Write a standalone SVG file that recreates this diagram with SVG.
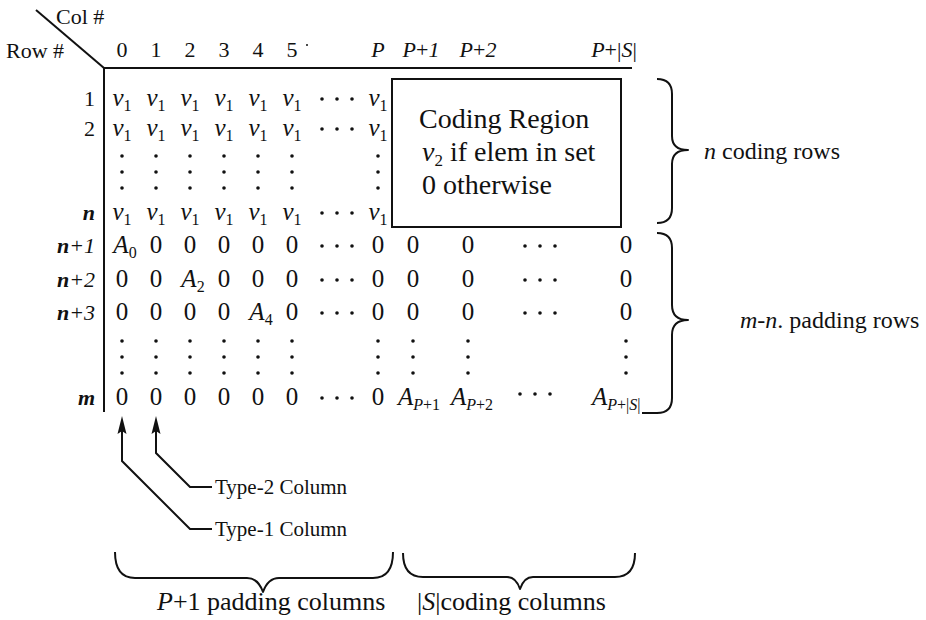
<svg xmlns="http://www.w3.org/2000/svg" width="926" height="620" viewBox="0 0 926 620">
<style>
text{font-family:"Liberation Serif","Times New Roman",serif;fill:#111}
.m{font-size:25px}
.h{font-size:22px}
.lb{font-size:22px}
.i{font-style:italic}
.b{font-weight:bold}
.sub{font-size:16px}
.box{font-size:28px}
.side{font-size:24px}
.bot{font-size:26px}
.typ{font-size:21px}
.ln{fill:none;stroke:#111;stroke-width:2}
.br{fill:none;stroke:#111;stroke-width:2;stroke-linejoin:round}
.dot{fill:#111}
</style>
<defs>
<circle id="d" r="1.8" class="dot"/>
<g id="hd"><use href="#d" x="-15"/><use href="#d"/><use href="#d" x="15"/></g>
<g id="vd"><use href="#d" y="-16"/><use href="#d"/><use href="#d" y="16"/></g>
<path id="ah" d="M0,0 L4.5,18 L0,15 L-4.5,18 Z" fill="#111"/>
</defs>
<g id="axes">
<line class="ln" x1="36" y1="10" x2="104" y2="68"/>
<line class="ln" x1="104" y1="68" x2="632" y2="68"/>
<line class="ln" x1="104" y1="68" x2="104" y2="412"/>
<text class="h" x="56" y="24">Col #</text>
<text class="h" x="6" y="58">Row #</text>
</g>
<g id="col-headers" class="h" text-anchor="middle">
<text x="122" y="57">0</text>
<text x="156" y="57">1</text>
<text x="190" y="57">2</text>
<text x="224" y="57">3</text>
<text x="258" y="57">4</text>
<text x="292" y="57">5</text>
<text x="378" y="57" class="i">P</text>
<text x="421" y="57"><tspan class="i">P</tspan>+<tspan class="i">1</tspan></text>
<text x="478" y="57"><tspan class="i">P</tspan>+<tspan class="i">2</tspan></text>
<text x="614" y="57"><tspan class="i">P</tspan>+|<tspan class="i">S</tspan>|</text>
</g>
<circle cx="307" cy="45" r="1" class="dot"/>
<g id="row-labels" class="lb" text-anchor="end">
<text x="95" y="106">1</text>
<text x="95" y="136">2</text>
<text x="95" y="220" class="i b">n</text>
<text x="95" y="253" class="i"><tspan class="b">n</tspan>+1</text>
<text x="95" y="287" class="i"><tspan class="b">n</tspan>+2</text>
<text x="95" y="320" class="i"><tspan class="b">n</tspan>+3</text>
<text x="95" y="405" class="i b">m</text>
</g>
<g id="padding-cols" class="m" text-anchor="middle">
<text x="122" y="106"><tspan class="i">v</tspan><tspan class="sub" dy="5">1</tspan></text>
<text x="156" y="106"><tspan class="i">v</tspan><tspan class="sub" dy="5">1</tspan></text>
<text x="190" y="106"><tspan class="i">v</tspan><tspan class="sub" dy="5">1</tspan></text>
<text x="224" y="106"><tspan class="i">v</tspan><tspan class="sub" dy="5">1</tspan></text>
<text x="258" y="106"><tspan class="i">v</tspan><tspan class="sub" dy="5">1</tspan></text>
<text x="292" y="106"><tspan class="i">v</tspan><tspan class="sub" dy="5">1</tspan></text>
<text x="378" y="106"><tspan class="i">v</tspan><tspan class="sub" dy="5">1</tspan></text>
<use href="#hd" x="337" y="99"/>
<text x="122" y="136"><tspan class="i">v</tspan><tspan class="sub" dy="5">1</tspan></text>
<text x="156" y="136"><tspan class="i">v</tspan><tspan class="sub" dy="5">1</tspan></text>
<text x="190" y="136"><tspan class="i">v</tspan><tspan class="sub" dy="5">1</tspan></text>
<text x="224" y="136"><tspan class="i">v</tspan><tspan class="sub" dy="5">1</tspan></text>
<text x="258" y="136"><tspan class="i">v</tspan><tspan class="sub" dy="5">1</tspan></text>
<text x="292" y="136"><tspan class="i">v</tspan><tspan class="sub" dy="5">1</tspan></text>
<text x="378" y="136"><tspan class="i">v</tspan><tspan class="sub" dy="5">1</tspan></text>
<use href="#hd" x="337" y="129"/>
<use href="#vd" x="122" y="172"/><use href="#vd" x="156" y="172"/><use href="#vd" x="190" y="172"/>
<use href="#vd" x="224" y="172"/><use href="#vd" x="258" y="172"/><use href="#vd" x="292" y="172"/>
<use href="#vd" x="378" y="172"/>
<text x="122" y="220"><tspan class="i">v</tspan><tspan class="sub" dy="5">1</tspan></text>
<text x="156" y="220"><tspan class="i">v</tspan><tspan class="sub" dy="5">1</tspan></text>
<text x="190" y="220"><tspan class="i">v</tspan><tspan class="sub" dy="5">1</tspan></text>
<text x="224" y="220"><tspan class="i">v</tspan><tspan class="sub" dy="5">1</tspan></text>
<text x="258" y="220"><tspan class="i">v</tspan><tspan class="sub" dy="5">1</tspan></text>
<text x="292" y="220"><tspan class="i">v</tspan><tspan class="sub" dy="5">1</tspan></text>
<text x="378" y="220"><tspan class="i">v</tspan><tspan class="sub" dy="5">1</tspan></text>
<use href="#hd" x="337" y="213"/>
<text x="125" y="253"><tspan class="i">A</tspan><tspan class="sub" dy="5">0</tspan></text>
<text x="156" y="253">0</text><text x="190" y="253">0</text><text x="224" y="253">0</text>
<text x="258" y="253">0</text><text x="292" y="253">0</text><text x="378" y="253">0</text>
<use href="#hd" x="337" y="246"/>
<text x="122" y="287">0</text><text x="156" y="287">0</text>
<text x="193" y="287"><tspan class="i">A</tspan><tspan class="sub" dy="5">2</tspan></text>
<text x="224" y="287">0</text><text x="258" y="287">0</text><text x="292" y="287">0</text><text x="378" y="287">0</text>
<use href="#hd" x="337" y="280"/>
<text x="122" y="320">0</text><text x="156" y="320">0</text><text x="190" y="320">0</text><text x="224" y="320">0</text>
<text x="261" y="320"><tspan class="i">A</tspan><tspan class="sub" dy="5">4</tspan></text>
<text x="292" y="320">0</text><text x="378" y="320">0</text>
<use href="#hd" x="337" y="313"/>
<use href="#vd" x="122" y="357"/><use href="#vd" x="156" y="357"/><use href="#vd" x="190" y="357"/>
<use href="#vd" x="224" y="357"/><use href="#vd" x="258" y="357"/><use href="#vd" x="292" y="357"/>
<use href="#vd" x="378" y="357"/>
<text x="122" y="405">0</text><text x="156" y="405">0</text><text x="190" y="405">0</text><text x="224" y="405">0</text>
<text x="258" y="405">0</text><text x="292" y="405">0</text><text x="378" y="405">0</text>
<use href="#hd" x="337" y="398"/>
</g>
<g id="coding-region">
<rect x="392" y="79" width="229" height="148" fill="none" stroke="#111" stroke-width="2"/>
<text class="box" x="419" y="128">Coding Region</text>
<text class="box" x="422" y="161"><tspan class="i">v</tspan><tspan font-size="17" dy="5">2</tspan><tspan dy="-5"> if elem in set</tspan></text>
<text class="box" x="422" y="194">0 otherwise</text>
</g>
<g id="coding-cols" class="m" text-anchor="middle">
<text x="413" y="253">0</text><text x="468" y="253">0</text><text x="626" y="253">0</text>
<use href="#hd" x="540" y="246"/>
<text x="413" y="287">0</text><text x="468" y="287">0</text><text x="626" y="287">0</text>
<use href="#hd" x="540" y="280"/>
<text x="413" y="320">0</text><text x="468" y="320">0</text><text x="626" y="320">0</text>
<use href="#hd" x="540" y="313"/>
<use href="#vd" x="413" y="357"/><use href="#vd" x="468" y="357"/><use href="#vd" x="626" y="357"/>
<text x="398" y="405" text-anchor="start"><tspan class="i">A</tspan><tspan class="sub" dy="5"><tspan class="i">P</tspan>+1</tspan></text>
<text x="451" y="405" text-anchor="start"><tspan class="i">A</tspan><tspan class="sub" dy="5"><tspan class="i">P</tspan>+2</tspan></text>
<use href="#hd" x="535" y="394"/>
<text x="592" y="405" text-anchor="start"><tspan class="i">A</tspan><tspan class="sub" dy="5"><tspan class="i">P</tspan>+|<tspan class="i">S</tspan>|</tspan></text>
</g>
<g id="row-braces">
<path class="br" d="M657,79 Q672,79 672,94 L672,136 Q672,150 688,150 Q672,150 672,164 L672,208 Q672,223 657,223"/>
<text class="side" x="704" y="159"><tspan class="i">n</tspan> coding rows</text>
<path class="br" d="M657,233 Q672,233 672,248 L672,305 Q672,320 688,320 Q672,320 672,335 L672,398 Q672,413 657,413 L642,413"/>
<text class="side" x="740" y="328"><tspan class="i">m</tspan>-<tspan class="i">n</tspan>. padding rows</text>
</g>
<g id="connectors">
<polyline class="ln" points="122,430 122,461 190,529 212,529"/>
<use href="#ah" x="122" y="416"/>
<polyline class="ln" points="156,430 156,453 190,487 212,487"/>
<use href="#ah" x="156" y="416"/>
</g>
<g id="type-labels" class="typ">
<text x="215" y="494">Type-2 Column</text>
<text x="215" y="536">Type-1 Column</text>
</g>
<g id="col-braces">
<path class="br" d="M115,552 Q115,578 135,578 L247,578 Q258,578 263,592 Q268,578 279,578 L373,578 Q393,578 393,552"/>
<text class="bot" x="157" y="610"><tspan class="i">P</tspan>+1 padding columns</text>
<path class="br" d="M403,553 Q403,577 423,577 L507,577 Q516,577 520,589 Q524,577 533,577 L615,577 Q635,577 635,553"/>
<text class="bot" x="417" y="610">|<tspan class="i">S</tspan>|coding columns</text>
</g>
</svg>
